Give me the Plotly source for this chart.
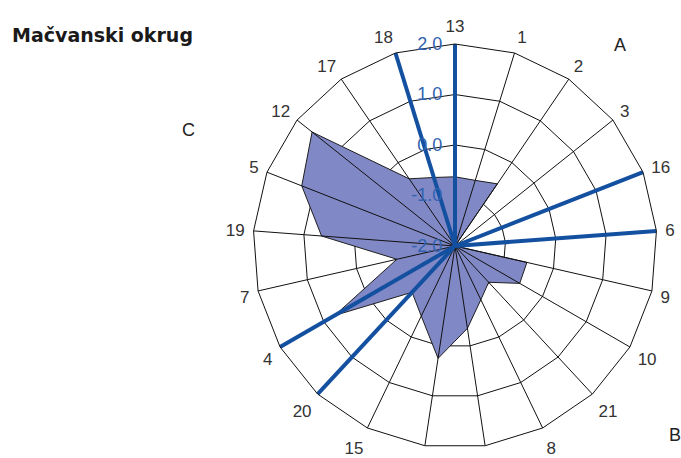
# Radar chart - Mačvanski okrug
import plotly.graph_objs as go

# Data
categories = ["13", "1", "2", "3", "16", "6", "9", "10", "21", "8", "11",
              "14", "15", "20", "4", "7", "19", "5", "12", "17", "18"]
values = [-0.63, -0.64, -0.51, -2.0, -2.0, -2.0, -0.54, -0.52, -1.02, -0.82, -0.35,
          0.25, -0.46, -0.75, 0.75, -0.82, 0.65, 1.26, 1.62, -0.39, -0.58]
spoke_categories = ["13", "18", "16", "6", "4", "20"]
radial_ticks = [-2, -1, 0, 1, 2]
radial_labels = ["-2.0", "-1.0", "0.0", "1.0", "2.0"]
r_min, r_max = -2, 2

W, H = 681, 458

def px(x, y):
  # pixel -> paper coords
  return x / W, 1 - y / H

# Helper: center-to-edge segments separated by gaps
def spokes(cats):
  theta, r = [], []
  for c in cats:
    theta += [c, c, None]
    r += [r_min, r_max, None]
  return theta, r

# Grid rings (drawn as traces so the filled area hides them)
rings = []
for v in radial_ticks[1:-1]:
  rings.append(go.Scatterpolar(
    r = [v] * (len(categories) + 1),
    theta = categories + categories[:1],
    mode = "lines",
    line = dict(color = "#111111", width = 1),
    hoverinfo = "skip"
  ))

# Build the traces
trace_area = go.Scatterpolar(
  r = values + values[:1],
  theta = categories + categories[:1],
  mode = "lines",
  fill = "toself",
  fillcolor = "#8088c6",
  line = dict(color = "#1e1e1e", width = 1),
  hoverinfo = "skip"
)

grid_theta, grid_r = spokes(categories)
trace_grid = go.Scatterpolar(
  r = grid_r,
  theta = grid_theta,
  mode = "lines",
  line = dict(color = "#111111", width = 1),
  hoverinfo = "skip"
)

blue_theta, blue_r = spokes(spoke_categories)
trace_blue = go.Scatterpolar(
  r = blue_r,
  theta = blue_theta,
  mode = "lines",
  line = dict(color = "#1450a0", width = 4),
  hoverinfo = "skip"
)

# polar circle: center (455, 246), radius 202 pixels
cx, cy, R = 455, 246, 202
dom_x = [(cx - R) / W, (cx + R) / W]
dom_y = [(H - cy - R) / H, (H - cy + R) / H]

def note(text, x, y, size = 18, xanchor = "center", family = None, color = "#222222"):
  ax, ay = px(x, y)
  font = dict(size = size, color = color)
  if family:
    font["family"] = family
  return dict(text = text, x = ax, y = ay, xref = "paper", yref = "paper",
              xanchor = xanchor, yanchor = "middle", showarrow = False, font = font)

layout = go.Layout(
  width = W,
  height = H,
  margin = dict(l = 0, r = 0, t = 0, b = 0),
  paper_bgcolor = "white",
  showlegend = False,
  font = dict(family = "Liberation Sans, Arial, sans-serif", color = "#222222"),
  polar = dict(
    domain = dict(x = dom_x, y = dom_y),
    bgcolor = "white",
    gridshape = "linear",
    angularaxis = dict(
      type = "category",
      categoryorder = "array",
      categoryarray = categories,
      direction = "clockwise",
      rotation = 90,
      showline = True,
      linecolor = "#111111",
      linewidth = 1,
      showgrid = False,
      ticks = "outside",
      ticklen = 5,
      tickcolor = "rgba(0,0,0,0)",
      tickfont = dict(size = 17, color = "#333333")
    ),
    radialaxis = dict(
      range = [r_min, r_max],
      angle = 90,
      side = "counterclockwise",
      layer = "above traces",
      tickangle = 90,
      tickvals = radial_ticks,
      ticktext = radial_labels,
      tickfont = dict(size = 18, color = "#3062b0"),
      showline = False,
      showgrid = False,
      ticks = "outside",
      ticklen = 6,
      tickcolor = "rgba(0,0,0,0)"
    )
  ),
  annotations = [
    note("<b>Mačvanski okrug</b>", 10, 35, size = 19, xanchor = "left",
         family = "DejaVu Sans", color = "#1a1a1a"),
    note("A", 620, 45),
    note("B", 675, 435),
    note("C", 188, 130)
  ]
)

# Build the plot
fig = go.Figure(data = rings + [trace_area, trace_grid, trace_blue], layout = layout)

# Save the plot (drop the default page margin so the figure fills the window)
fig.write_html("out.html", config = {"displayModeBar": False},
               post_script = "document.body.style.margin = '0';")
